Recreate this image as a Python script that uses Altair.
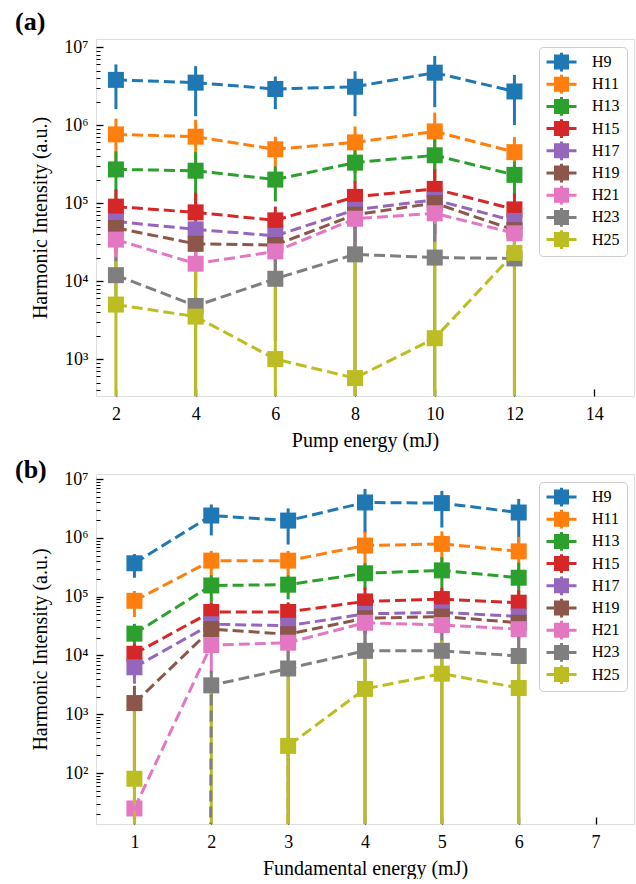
import altair as alt
import pandas as pd

series = ["H9", "H11", "H13", "H15", "H17", "H19", "H21", "H23", "H25"]
colors = ["#1f77b4", "#ff7f0e", "#2ca02c", "#d62728", "#9467bd",
          "#8c564b", "#e377c2", "#7f7f7f", "#bcbd22"]

# ---------------- panel (a): pump energy ----------------
pump_energy = [2, 4, 6, 8, 10, 12]
pump_H9 = [3.8e6, 3.5e6, 2.9e6, 3.1e6, 4.7e6, 2.7e6]
pump_H9_err = [2.2e6, 2.2e6, 1.3e6, 1.8e6, 3.0e6, 1.7e6]
pump_H11 = [7.6e5, 7.1e5, 4.9e5, 6.0e5, 8.3e5, 4.5e5]
pump_H11_err = [4.5e5, 4.6e5, 2.2e5, 3.6e5, 6.2e5, 2.5e5]
pump_H13 = [2.7e5, 2.6e5, 2.0e5, 3.3e5, 4.1e5, 2.3e5]
pump_H13_err = [1.9e5, 1.9e5, 0.95e5, 1.5e5, 2.6e5, 1.1e5]
pump_H15 = [9.0e4, 7.6e4, 6.0e4, 1.2e5, 1.52e5, 8.3e4]
pump_H15_err = [6e4, 6e4, 3e4, 7e4, 1.2e5, 5e4]
pump_H17 = [5.8e4, 4.6e4, 3.8e4, 8.2e4, 1.1e5, 5.9e4]
pump_H17_err = [3.5e4, 2.5e4, 2e4, 5e4, 7e4, 3.5e4]
pump_H19 = [4.8e4, 3.0e4, 2.9e4, 7.1e4, 1.0e5, 4.5e4]
pump_H19_err = [3e4, 2e4, 1.5e4, 4.5e4, 6e4, 3e4]
pump_H21 = [3.4e4, 1.67e4, 2.4e4, 6.3e4, 7.4e4, 4.1e4]
pump_H21_err = [1.4e4, 0.8e4, 1.2e4, 4e4, 4.5e4, 2.5e4]
pump_H23 = [1.19e4, 4.8e3, 1.07e4, 2.2e4, 2.0e4, 1.95e4]
pump_H23_err = [8e3, 5e3, 9e3, 3e4, 3.4e4, 2.5e4]
pump_H25 = [5.0e3, 3.5e3, 1.0e3, 5.7e2, 1.85e3, 2.3e4]
pump_H25_err = [1.3e4, 1.1e4, 1.0e4, 2e4, 3e4, 3e4]

# ---------------- panel (b): fundamental energy ----------------
fund_energy = [1, 2, 3, 4, 5, 6]
fund_H9 = [3.7e5, 2.4e6, 1.97e6, 4.0e6, 3.9e6, 2.7e6]
fund_H9_err = [1.6e5, 1.3e6, 1.2e6, 2.8e6, 2.4e6, 1.9e6]
fund_H11 = [8.5e4, 4.1e5, 4.1e5, 7.4e5, 7.9e5, 5.9e5]
fund_H11_err = [4e4, 1.9e5, 1.9e5, 5.3e5, 5e5, 4.5e5]
fund_H13 = [2.35e4, 1.55e5, 1.6e5, 2.5e5, 2.8e5, 2.1e5]
fund_H13_err = [1.1e4, 7.5e4, 7e4, 1.2e5, 1.9e5, 1.7e5]
fund_H15 = [1.07e4, 5.5e4, 5.5e4, 8.3e4, 9.1e4, 7.9e4]
fund_H15_err = [5e3, 2.5e4, 2.5e4, 6e4, 5e4, 5e4]
fund_H17 = [6.3e3, 3.4e4, 3.2e4, 5.1e4, 5.4e4, 4.6e4]
fund_H17_err = [3e3, 1.5e4, 1.5e4, 2.5e4, 2.5e4, 2.2e4]
fund_H19 = [1.55e3, 2.8e4, 2.3e4, 4.3e4, 4.6e4, 3.6e4]
fund_H19_err = [1.5e3, 1.3e4, 1.1e4, 2e4, 2e4, 1.8e4]
fund_H21 = [25, 1.5e4, 1.65e4, 3.6e4, 3.3e4, 2.8e4]
fund_H21_err = [20, 1e4, 8e3, 2e4, 2e4, 1.5e4]
fund_H23 = [0, 3.1e3, 6.0e3, 1.2e4, 1.2e4, 9.8e3]
fund_H23_err = [0, 2.4e3, 6e3, 1.6e4, 1.4e4, 1.3e4]
fund_H25 = [80, 0, 290, 2.7e3, 4.9e3, 2.8e3]
fund_H25_err = [1.2e3, 2.5e3, 4e3, 6e3, 1.3e4, 4.5e3]

pump_vals = [pump_H9, pump_H11, pump_H13, pump_H15, pump_H17, pump_H19, pump_H21, pump_H23, pump_H25]
pump_errs = [pump_H9_err, pump_H11_err, pump_H13_err, pump_H15_err, pump_H17_err,
             pump_H19_err, pump_H21_err, pump_H23_err, pump_H25_err]
fund_vals = [fund_H9, fund_H11, fund_H13, fund_H15, fund_H17, fund_H19, fund_H21, fund_H23, fund_H25]
fund_errs = [fund_H9_err, fund_H11_err, fund_H13_err, fund_H15_err, fund_H17_err,
             fund_H19_err, fund_H21_err, fund_H23_err, fund_H25_err]

CLIP = 1e-300  # non-positive values are clipped far below the axis (log scale)


def build(xs, vals, errs):
    rows = []
    for s, v, e in zip(series, vals, errs):
        for xi, vi, ei in zip(xs, v, e):
            lo, hi = vi - ei, vi + ei
            rows.append(dict(series=s, x=xi,
                             y=vi if vi > 0 else CLIP,
                             lo=lo if lo > 0 else CLIP,
                             hi=hi if hi > 0 else CLIP))
    return pd.DataFrame(rows)


FONT = "Liberation Serif, Times New Roman, serif"
LG = "round(log(datum.value)/LN10)"
MAJOR = f"abs(log(datum.value)/LN10 - {LG}) < 0.001"
SUP = (f"replace(replace(replace(replace(replace(replace(''+{LG},"
       "'2','²'),'3','³'),'4','⁴'),'5','⁵'),'6','⁶'),'7','⁷')")
# legend key: square marker + short line + vertical error bar (shifted right by one unit)
LEGEND_PATH = ("M0,-1H2V1H0Z M-1,-0.2H3V0.2H-1Z M0.8,-1.25H1.2V1.25H0.8Z")


def y_axis(lo_exp, hi_exp, dom):
    vals = []
    for k in range(lo_exp, hi_exp + 1):
        for m in range(1, 10):
            v = m * 10 ** k
            if dom[0] <= v <= dom[1]:
                vals.append(v)
    return alt.Axis(
        values=vals, title="Harmonic Intensity (a.u.)", grid=False, domain=False,
        offset=-7, tickSize=7, tickColor="black",
        tickDash={"condition": {"test": MAJOR, "value": []}, "value": [0, 3, 4]},
        tickWidth={"condition": {"test": MAJOR, "value": 1.3}, "value": 1.0},
        labelExpr=f"{MAJOR} ? '10' + {SUP} : ''", labelOverlap=False,
        labelFont=FONT, labelFontSize=18, labelColor="black", labelPadding=8,
        titleFont=FONT, titleFontSize=20, titleFontWeight="normal", titleColor="black",
        titlePadding=13,
    )


def x_axis(title, vals):
    return alt.Axis(
        values=vals, title=title, grid=False, domain=False, offset=-7, tickSize=7,
        tickColor="black", tickWidth=1.3, labelFont=FONT, labelFontSize=18,
        labelColor="black", labelPadding=9, labelFlush=False,
        titleFont=FONT, titleFontSize=20, titleFontWeight="normal", titleColor="black",
        titlePadding=7,
    )


def panel(df, label, title_offset, xtitle, xdom, xticks, ydom, yexp, h):
    cscale = alt.Scale(domain=series, range=colors)
    X = alt.X("x:Q", scale=alt.Scale(domain=xdom, nice=False, zero=False),
              axis=x_axis(xtitle, xticks))
    yscale = alt.Scale(type="log", domain=ydom, nice=False)
    yax = y_axis(yexp[0], yexp[1], ydom)
    Y = alt.Y("y:Q", scale=yscale, axis=yax)
    legend = alt.Legend(
        title=None, orient="none", legendX=443, legendY=8, symbolType=LEGEND_PATH,
        symbolSize=225, symbolStrokeWidth=0, symbolOpacity=1, labelFont=FONT,
        labelFontSize=16, labelColor="black", labelOffset=30, rowPadding=2.2,
        padding=7, strokeColor="#cccccc", fillColor="white", cornerRadius=4,
    )
    C = alt.Color("series:N", scale=cscale, legend=legend)
    # empty layer that defines the legend's (filled square) symbols
    key = alt.Chart(df).transform_filter("false").mark_point(
        shape="square", filled=True, size=256, opacity=1).encode(x=X, y=Y, color=C)
    rules = alt.Chart(df).mark_rule(strokeWidth=3, clip=True).encode(
        x=X, y=alt.Y("lo:Q", scale=yscale, axis=yax), y2="hi:Q", color=C)
    layers = [key, rules]
    for s in series:
        base = alt.Chart(df[df["series"] == s])
        layers.append(base.mark_line(strokeWidth=3, strokeDash=[11, 5], clip=True).encode(
            x=X, y=Y, color=C))
        layers.append(base.mark_point(shape="square", filled=True, size=256, opacity=1,
                                      clip=True).encode(x=X, y=Y, color=C))
    return alt.layer(*layers).properties(
        width=538, height=h,
        title=alt.TitleParams(label, anchor="start", dx=-81, offset=title_offset,
                              fontSize=26, fontWeight="bold", font=FONT, color="black",
                              frame="group"),
    )


df_a = build(pump_energy, pump_vals, pump_errs)
df_b = build(fund_energy, fund_vals, fund_errs)

pa = panel(df_a, "(a)", 3, "Pump energy (mJ)", [1.5, 15], [2, 4, 6, 8, 10, 12, 14],
           [336, 1.27e7], (2, 7), 357)
pb = panel(df_b, "(b)", -13, "Fundamental energy (mJ)", [0.5, 7.5], [1, 2, 3, 4, 5, 6, 7],
           [13.6, 1.22e7], (1, 7), 350)

chart = alt.vconcat(pa, pb, spacing=5).resolve_scale(color="independent").resolve_legend(
    color="independent").properties(
    padding={"left": 14, "top": 8, "right": 0, "bottom": 0}
).configure_view(stroke="black", strokeWidth=1.3).configure(background="white")

chart.save("out.html", embed_options={"renderer": "svg", "actions": False})
